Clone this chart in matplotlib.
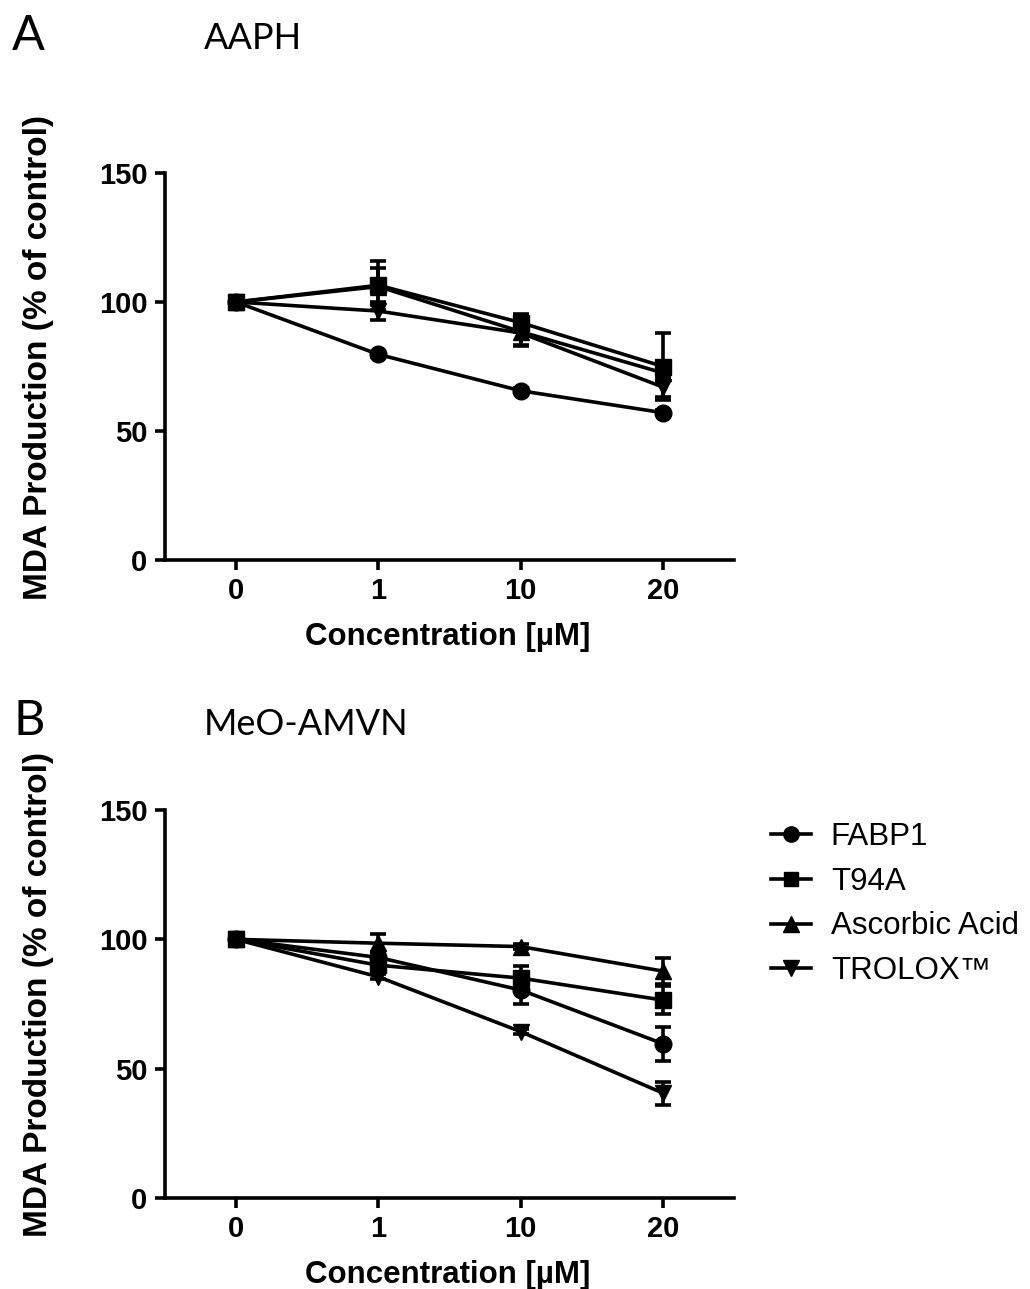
import matplotlib
matplotlib.use("Agg")
import matplotlib.pyplot as plt
from matplotlib.lines import Line2D

# data
conc_labels = ["0", "1", "10", "20"]
series_names = ["FABP1", "T94A", "Ascorbic Acid", "TROLOX\u2122"]
markers = ["o", "s", "^", "v"]
marker_sizes = [12, 11, 12, 12]

# panel A: AAPH
aaph_mean = {
    "FABP1": [100, 79.7, 65.6, 57.1],
    "T94A": [100, 106.5, 92, 75],
    "Ascorbic Acid": [100, 106, 88.5, 72.5],
    "TROLOX\u2122": [100, 96.5, 88, 67],
}
aaph_err = {
    "FABP1": [0, 1, 1, 1],
    "T94A": [0, 9.5, 3.5, 13],
    "Ascorbic Acid": [0, 7, 5, 3],
    "TROLOX\u2122": [0, 3.5, 5, 4],
}

# panel B: MeO-AMVN
amvn_mean = {
    "FABP1": [100, 93, 80.4, 59.6],
    "T94A": [100, 90, 85, 76.5],
    "Ascorbic Acid": [100, 98.5, 97.2, 87.7],
    "TROLOX\u2122": [100, 85.5, 64.3, 40.5],
}
amvn_err = {
    "FABP1": [0, 2, 5.5, 6.5],
    "T94A": [0, 2, 4.5, 5.5],
    "Ascorbic Acid": [0, 3.5, 1, 5],
    "TROLOX\u2122": [0, 1, 1, 4.5],
}

plt.rcParams['font.family'] = ['Liberation Sans', 'DejaVu Sans']

fig = plt.figure(figsize=(10.30, 12.89), dpi=100)
axA = fig.add_axes([0.160, 0.5655, 0.553, 0.3003])
axB = fig.add_axes([0.160, 0.0706, 0.553, 0.3010])

lw = 2.6


def draw_panel(ax, means, errs):
    x = list(range(len(conc_labels)))
    for name, m, ms in zip(series_names, markers, marker_sizes):
        ax.errorbar(x, means[name], yerr=errs[name], color="black",
                    marker=m, markersize=ms, linewidth=lw,
                    elinewidth=lw, capsize=5.5, capthick=lw, clip_on=False)
    ax.set_xlim(-0.5, 3.5)
    ax.set_ylim(0, 150)
    ax.set_xticks(x)
    ax.set_xticklabels(conc_labels)
    ax.set_yticks([0, 50, 100, 150])
    for s in ["top", "right"]:
        ax.spines[s].set_visible(False)
    for s in ["left", "bottom"]:
        ax.spines[s].set_linewidth(lw)
    ax.tick_params(axis="both", length=7.5, width=lw, labelsize=21, pad=5)
    for lab in ax.get_xticklabels() + ax.get_yticklabels():
        lab.set_fontweight("bold")
    ax.set_xlabel("Concentration [\u00b5M]", fontsize=22.5, fontweight="bold")
    ax.set_ylabel("MDA Production (% of control)", fontsize=24, fontweight="bold")
    ax.yaxis.set_label_coords(-0.195, 0.524)
    ax.xaxis.set_label_coords(0.497, -0.161)


draw_panel(axA, aaph_mean, aaph_err)
draw_panel(axB, amvn_mean, amvn_err)

title_font = ['Lato', 'DejaVu Sans']
fig.text(12 / 1030, 1 - 50 / 1289, "A", fontsize=35, family=title_font)
fig.text(204 / 1030, 1 - 49 / 1289, "AAPH", fontsize=26, family=title_font)
fig.text(14 / 1030, 1 - 735 / 1289, "B", fontsize=35, family=title_font)
fig.text(204 / 1030, 1 - 735 / 1289, "MeO-AMVN", fontsize=26, family=title_font)

handles = [Line2D([], [], color="black", marker=m, markersize=ms - 1, linewidth=lw)
           for m, ms in zip(markers, marker_sizes)]
fig.legend(handles, series_names, loc="upper left",
           bbox_to_anchor=(0.721, 1 - 794 / 1289), frameon=False,
           fontsize=22.5, handlelength=1.3, handletextpad=0.62, labelspacing=0.47)

fig.savefig("out.png", dpi=100)
